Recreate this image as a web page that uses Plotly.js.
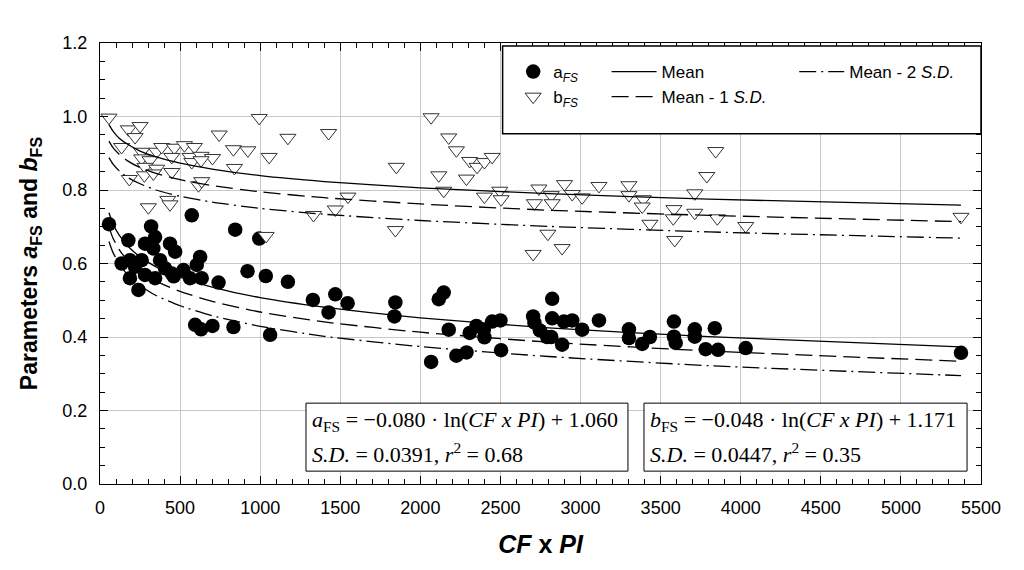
<!DOCTYPE html>
<html>
<head>
<meta charset="utf-8">
<script src="https://cdn.plot.ly/plotly-3.0.1.min.js"></script>
<style>
    html, body { margin: 0; padding: 0; background: #fff; }
    #plotly__graph { width: 1024px; height: 570px; }
</style>
</head>
<body>
<div id="plotly__graph"></div>
<script>
// **********************************************************************************************
// DATA

// a_FS points (CF x PI, value)
const aX = [56, 177, 319, 281, 344, 333, 437, 469, 135, 187, 219, 260, 187, 240, 281, 344, 375, 406, 448, 460,
    521, 562, 625, 604, 635, 740, 573, 844, 994, 921, 1035, 1173, 594, 631, 702, 833, 1062, 1329, 1469, 1546,
    1427, 1844, 1838, 2115, 2146, 2177, 2067, 2225, 2288, 2308, 2350, 2400, 2396, 2448, 2500, 2504, 2704, 2712,
    2746, 2792, 2817, 2823, 2823, 2885, 2896, 2948, 3010, 3115, 3302, 3302, 3385, 3433, 3583, 3583, 3594, 3713,
    3713, 3781, 3838, 3858, 4031, 5375];
const aY = [0.707, 0.663, 0.701, 0.654, 0.672, 0.641, 0.654, 0.632, 0.600, 0.609, 0.591, 0.609, 0.560, 0.528, 0.569,
    0.560, 0.609, 0.587, 0.573, 0.565, 0.582, 0.560, 0.618, 0.596, 0.560, 0.548, 0.731, 0.692, 0.668, 0.579, 0.566,
    0.550, 0.433, 0.421, 0.430, 0.427, 0.406, 0.501, 0.516, 0.492, 0.467, 0.494, 0.456, 0.503, 0.521, 0.420, 0.332,
    0.349, 0.358, 0.411, 0.430, 0.399, 0.420, 0.442, 0.445, 0.364, 0.456, 0.439, 0.418, 0.400, 0.400, 0.504, 0.451,
    0.379, 0.442, 0.445, 0.420, 0.445, 0.421, 0.397, 0.381, 0.400, 0.442, 0.401, 0.384, 0.421, 0.401, 0.367, 0.424,
    0.365, 0.370, 0.357];

// b_FS points
const bX = [56, 177, 250, 219, 135, 260, 354, 385, 464, 527, 589, 448, 562, 631, 702, 260, 312, 281, 354, 573, 631,
    448, 277, 333, 183, 615, 635, 744, 833, 923, 839, 1056, 994, 1173, 302, 423, 437, 1427, 1548, 1469, 1333, 1037,
    2067, 2177, 2225, 2308, 2354, 2400, 2448, 1850, 2115, 2288, 2146, 2400, 2496, 2504, 1844, 2740, 2712, 2817, 2823,
    2900, 2948, 3010, 3115, 3302, 3302, 3392, 3385, 3433, 3583, 3579, 3588, 2796, 2885, 2704, 3844, 3788, 3713, 3713,
    3854, 4031, 5375];
const bY = [0.997, 0.965, 0.974, 0.944, 0.917, 0.904, 0.904, 0.917, 0.915, 0.922, 0.917, 0.890, 0.890, 0.893, 0.887,
    0.886, 0.881, 0.863, 0.858, 0.876, 0.881, 0.849, 0.840, 0.845, 0.830, 0.813, 0.824, 0.951, 0.911, 0.908, 0.860,
    0.890, 0.996, 0.942, 0.753, 0.773, 0.761, 0.955, 0.782, 0.747, 0.732, 0.675, 0.998, 0.943, 0.908, 0.879, 0.863,
    0.876, 0.890, 0.863, 0.840, 0.831, 0.798, 0.782, 0.798, 0.775, 0.691, 0.804, 0.764, 0.786, 0.764, 0.816, 0.789,
    0.780, 0.811, 0.813, 0.786, 0.775, 0.755, 0.708, 0.748, 0.723, 0.664, 0.681, 0.642, 0.626, 0.906, 0.838, 0.791,
    0.738, 0.723, 0.702, 0.727];

// fitted curves
const fitX = [56, 80, 120, 170, 250, 350, 500, 700, 1000, 1400, 2000, 2800, 3800, 5375];
const aMean = [0.738, 0.709, 0.677, 0.649, 0.618, 0.591, 0.563, 0.536, 0.507, 0.481, 0.452, 0.425, 0.401, 0.373];
const aMean1 = [0.699, 0.670, 0.638, 0.610, 0.579, 0.552, 0.524, 0.497, 0.468, 0.441, 0.413, 0.386, 0.362, 0.334];
const aMean2 = [0.660, 0.631, 0.599, 0.571, 0.540, 0.513, 0.485, 0.458, 0.429, 0.402, 0.374, 0.347, 0.322, 0.295];
const bMean = [0.978, 0.961, 0.941, 0.925, 0.906, 0.890, 0.873, 0.857, 0.839, 0.823, 0.806, 0.790, 0.775, 0.759];
const bMean1 = [0.933, 0.916, 0.897, 0.880, 0.861, 0.845, 0.828, 0.812, 0.795, 0.779, 0.762, 0.745, 0.731, 0.714];
const bMean2 = [0.888, 0.871, 0.852, 0.835, 0.817, 0.800, 0.783, 0.767, 0.750, 0.734, 0.717, 0.701, 0.686, 0.669];

const xTicks = [0, 500, 1000, 1500, 2000, 2500, 3000, 3500, 4000, 4500, 5000, 5500];
const yTicks = [0.0, 0.2, 0.4, 0.6, 0.8, 1.0, 1.2];

const eqA = ['<i>a</i><sub>FS</sub> = \u22120.080 \u00b7 ln(<i>CF x PI</i>) + 1.060',
    '<i>S.D.</i> = 0.0391, <i>r</i><sup>2</sup> = 0.68'];
const eqB = ['<i>b</i><sub>FS</sub> = \u22120.048 \u00b7 ln(<i>CF x PI</i>) + 1.171',
    '<i>S.D.</i> = 0.0447, <i>r</i><sup>2</sup> = 0.35'];

// **********************************************************************************************
// TRACES

const SANS = 'Liberation Sans, Arial, sans-serif';
const SERIF = 'Liberation Serif, Times New Roman, serif';

const DASH1 = '17px,7px';
const DASH2 = '17px,5px,2px,5px';

const lineTrace = (y, name, dash, legend, show) => ({
    type: 'scatter', mode: 'lines', x: fitX, y: y, name: name,
    line: { color: 'black', width: 1.3, dash: dash, shape: 'spline', smoothing: 0.6 },
    legend: legend, showlegend: show, hoverinfo: 'skip'
});

const data = [
    {
        type: 'scatter', mode: 'markers', x: aX, y: aY, name: 'a<sub><i>FS</i></sub>',
        marker: { symbol: 'circle', size: 14.5, color: 'black' }, legend: 'legend'
    },
    {
        type: 'scatter', mode: 'markers', x: bX, y: bY, name: 'b<sub><i>FS</i></sub>',
        marker: { symbol: 'triangle-down', size: 14, color: 'white', line: { color: '#333', width: 1 } },
        legend: 'legend'
    },
    lineTrace(aMean, 'Mean', 'solid', 'legend2', true),
    lineTrace(aMean1, 'Mean - 1 <i>S.D.</i>', DASH1, 'legend2', true),
    lineTrace(aMean2, 'Mean - 2 <i>S.D.</i>', DASH2, 'legend3', true),
    lineTrace(bMean, 'Mean', 'solid', 'legend2', false),
    lineTrace(bMean1, 'Mean - 1 S.D.', DASH1, 'legend2', false),
    lineTrace(bMean2, 'Mean - 2 S.D.', DASH2, 'legend3', false)
];

// **********************************************************************************************
// LAYOUT

const legendBase = {
    xanchor: 'left', yanchor: 'top', y: 0.975,
    bgcolor: 'rgba(0,0,0,0)', borderwidth: 0,
    font: { family: SANS, size: 17, color: 'black' }
};

const eqAnn = (x, y, text) => ({
    xref: 'x', yref: 'y', x: x, y: y, xanchor: 'left', yanchor: 'middle',
    text: text, showarrow: false, font: { family: SERIF, size: 22, color: 'black' }
});

const layout = {
    width: 1024, height: 570,
    margin: { t: 43, r: 43, b: 86, l: 100 },
    paper_bgcolor: 'white', plot_bgcolor: 'white',
    font: { family: SANS, color: 'black' },
    xaxis: {
        range: [0, 5500], tickvals: xTicks, ticktext: xTicks.map(String),
        showgrid: true, gridcolor: '#c8c8c8', gridwidth: 1, zeroline: false,
        showline: true, linecolor: 'black', linewidth: 1, mirror: 'ticks',
        ticks: 'inside', ticklen: 8, tickcolor: 'black', ticklabelstandoff: 7,
        minor: { dtick: 100, ticks: 'inside', ticklen: 5, tickcolor: 'black', showgrid: false },
        tickfont: { family: SANS, size: 18, color: 'black' },
        automargin: false,
        title: { text: '<b><i>CF</i> x <i>PI</i></b>', font: { family: SANS, size: 25, color: 'black' }, standoff: 18 }
    },
    yaxis: {
        range: [0, 1.2], tickvals: yTicks, ticktext: yTicks.map(v => v.toFixed(1)),
        showgrid: true, gridcolor: '#c8c8c8', gridwidth: 1, zeroline: false,
        showline: true, linecolor: 'black', linewidth: 1, mirror: 'ticks',
        ticks: 'inside', ticklen: 8, tickcolor: 'black', ticklabelstandoff: 8,
        minor: { dtick: 0.05, ticks: 'inside', ticklen: 5, tickcolor: 'black', showgrid: false },
        tickfont: { family: SANS, size: 18, color: 'black' },
        automargin: false,
        title: {
            text: '<b>Parameters <i>a</i><sub>FS</sub> and <i>b</i><sub>FS</sub></b>',
            font: { family: SANS, size: 23, color: 'black' }, standoff: 18
        }
    },
    legend: Object.assign({}, legendBase, { x: 0.469 }),
    legend2: Object.assign({}, legendBase, { x: 0.575, itemwidth: 45 }),
    legend3: Object.assign({}, legendBase, { x: 0.788, itemwidth: 45 }),
    shapes: [
        // legend frame
        { type: 'rect', xref: 'paper', yref: 'paper', x0: 0.457, x1: 1.0, y0: 0.794, y1: 0.993,
          line: { color: 'black', width: 1.5 }, fillcolor: 'white', layer: 'above' },
        // equation boxes
        { type: 'rect', xref: 'x', yref: 'y', x0: 1286, x1: 3296, y0: 0.035, y1: 0.220,
          line: { color: 'black', width: 1 }, fillcolor: 'white', layer: 'above' },
        { type: 'rect', xref: 'x', yref: 'y', x0: 3396, x1: 5413, y0: 0.035, y1: 0.220,
          line: { color: 'black', width: 1 }, fillcolor: 'white', layer: 'above' }
    ],
    annotations: [
        eqAnn(1310, 0.172, eqA[0]),
        eqAnn(1310, 0.085, eqA[1]),
        eqAnn(3420, 0.172, eqB[0]),
        eqAnn(3420, 0.085, eqB[1])
    ]
};

// **********************************************************************************************
// CONFIG

const config = { displayModeBar: false, responsive: false };

Plotly.newPlot(document.getElementById('plotly__graph'), data, layout, config);
</script>
</body>
</html>
